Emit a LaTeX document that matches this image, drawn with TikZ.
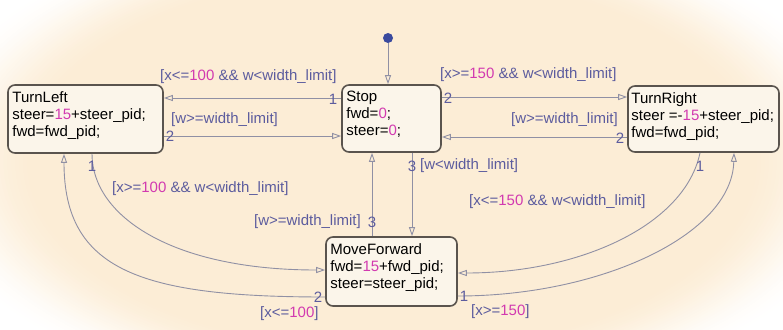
\documentclass[tikz,border=0pt]{standalone}
\usepackage{fontspec}
\setmainfont{Liberation Sans}
\usetikzlibrary{arrows.meta,calc}
\definecolor{bgcream}{HTML}{FCEDD6}
\definecolor{boxfill}{HTML}{FBF5EA}
\definecolor{boxline}{HTML}{5A544E}
\definecolor{lbl}{HTML}{5C5C9E}
\definecolor{num}{HTML}{D23AB0}
\definecolor{conn}{HTML}{9090A4}
\definecolor{dotc}{HTML}{3A4A9E}
\newcommand{\nm}[1]{\textcolor{num}{#1}}
\tikzset{
  statebox/.style={draw=boxline, line width=1.6pt, fill=boxfill, rounded corners=7pt, inner sep=0pt},
  statetext/.style={anchor=north west, inner sep=0pt, align=left, font=\fontsize{15}{17}\selectfont, text=black},
  translbl/.style={inner sep=0pt, font=\fontsize{15}{17}\selectfont, text=lbl},
  conn/.style={draw=conn, line width=0.9pt, -{Triangle[open,length=9pt,width=6pt]}},
}
\begin{document}
\begin{tikzpicture}[x=1pt,y=-1pt]
\useasboundingbox (0,0) rectangle (783,329);
\fill[white] (0,0) rectangle (783,329);
\foreach \k in {0,...,32} {
  \pgfmathsetmacro{\sc}{1.15-0.0094*\k}
  \pgfmathsetmacro{\tt}{\k/32}
  \pgfmathsetmacro{\pc}{100*\tt*\tt*(3-2*\tt)}
  \fill[bgcream!\pc!white] (392,162) ellipse [x radius=420*\sc, y radius=218*\sc];
}
% states
\node[statebox, minimum width=155pt, minimum height=68pt] (tl) at (85.5,119) {};
\node[statebox, minimum width=99pt, minimum height=67pt] (stop) at (391.5,118.5) {};
\node[statebox, minimum width=151pt, minimum height=66pt] (tr) at (703.5,119) {};
\node[statebox, minimum width=131pt, minimum height=69pt] (mf) at (391.5,271.5) {};
\node[statetext] (tltxt) at ($(tl.north west)+(5,7)$) {TurnLeft\\steer=\nm{15}+steer\_pid;\\fwd=fwd\_pid;};
\node[statetext] (stoptxt) at ($(stop.north west)+(5,7)$) {Stop\\fwd=\nm{0};\\steer=\nm{0};};
\node[statetext] (trtxt) at ($(tr.north west)+(4,7)$) {TurnRight\\steer =-\nm{15}+steer\_pid;\\fwd=fwd\_pid;};
\node[statetext] (mftxt) at ($(mf.north west)+(5,7)$) {MoveForward\\fwd=\nm{15}+fwd\_pid;\\steer=steer\_pid;};
% initial
\node[circle, fill=dotc, inner sep=0pt, minimum size=10pt] (init) at (388,38) {};
\draw[conn] (init) -- ([xshift=-3.5pt]stop.north);
% horizontal transitions
\draw[conn] ([yshift=20.5pt]stop.west) -- ([yshift=20.5pt]stop.west -| tl.east);
\draw[conn] ([yshift=-17pt]tl.east) -- ([yshift=-17pt]tl.east -| stop.west);
\draw[conn] ([yshift=21.5pt]stop.east) -- ([yshift=21.5pt]stop.east -| tr.west);
\draw[conn] ([yshift=-18pt]tr.west) -- ([yshift=-18pt]tr.west -| stop.east);
% vertical transitions
\draw[conn] ([xshift=20.5pt]stop.south) -- ([xshift=20.5pt]stop.south |- mf.north);
\draw[conn] ([xshift=-19.5pt]mf.north) -- ([xshift=-19.5pt]mf.north |- stop.south);
% curved transitions
\draw[conn] ([xshift=6.5pt]tl.south) .. controls (92,215) and (170,270) .. ([yshift=1.5pt]mf.west);
\draw[conn] ([yshift=-25.5pt]mf.west) .. controls (140,297) and (64,270) .. ([xshift=-21.5pt]tl.south);
\draw[conn] ([xshift=-3.5pt]tr.south) .. controls (685,225) and (580,273) .. ([yshift=-1.5pt]mf.east);
\draw[conn] ([yshift=-24.5pt]mf.east) .. controls (600,296) and (732,235) .. ([xshift=30.5pt]tr.south);
% labels
\node[translbl, anchor=west] (l1) at (160,77) {[x<=\nm{100} \&\& w<width\_limit]};
\node[translbl, anchor=west] (l2) at (171,120) {[w>=width\_limit]};
\node[translbl, anchor=west] (l3) at (440,75) {[x>=\nm{150} \&\& w<width\_limit]};
\node[translbl, anchor=east] (l4) at (618,120) {[w>=width\_limit]};
\node[translbl, anchor=west] (l5) at (420,166) {[w<width\_limit]};
\node[translbl, anchor=east] (l6) at (361,222) {[w>=width\_limit]};
\node[translbl, anchor=west] (l7) at (112,189) {[x>=\nm{100} \&\& w<width\_limit]};
\node[translbl, anchor=west] (l8) at (260,314) {[x<=\nm{100}]};
\node[translbl, anchor=west] (l9) at (469,202) {[x<=\nm{150} \&\& w<width\_limit]};
\node[translbl, anchor=west] (l10) at (471,312) {[x>=\nm{150}]};
% order numbers
\node[translbl] (n1) at (333,99) {1};
\node[translbl] (n2) at (170,136) {2};
\node[translbl] (n3) at (448,98) {2};
\node[translbl] (n4) at (620,138) {2};
\node[translbl] (n5) at (412,166) {3};
\node[translbl] (n6) at (372,222) {3};
\node[translbl] (n7) at (92,166) {1};
\node[translbl] (n8) at (318,297) {2};
\node[translbl] (n9) at (700,166) {1};
\node[translbl] (n10) at (464,296) {1};
\end{tikzpicture}
\end{document}
